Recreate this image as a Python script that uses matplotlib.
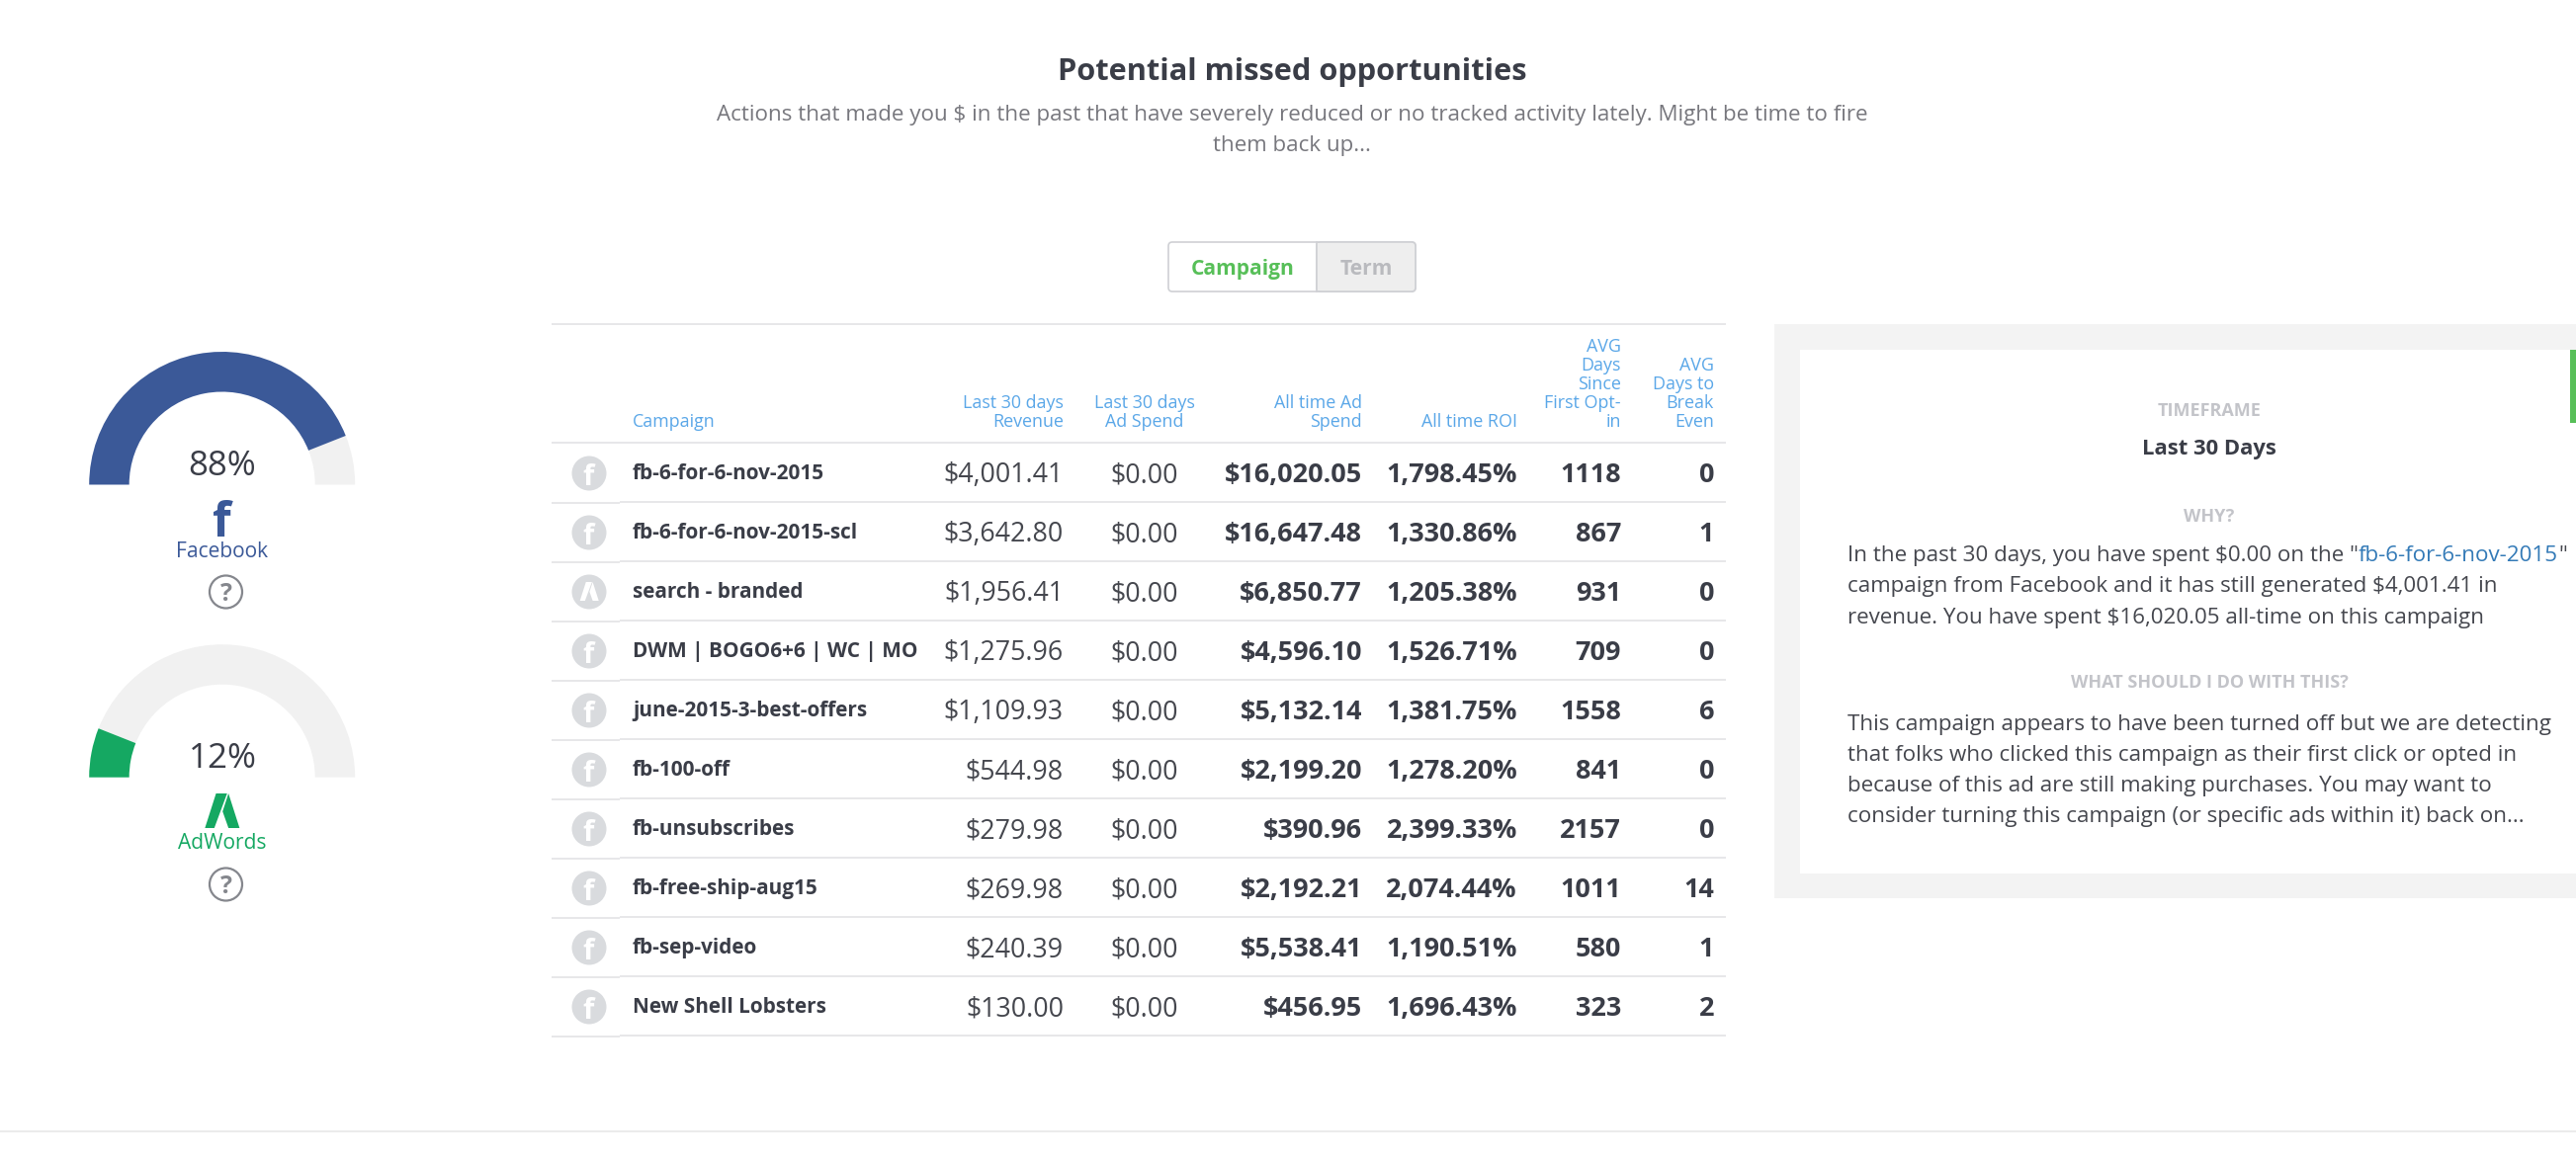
import matplotlib
matplotlib.use('Agg')
import matplotlib.pyplot as plt
from matplotlib.patches import Wedge, Rectangle, Circle, Polygon, FancyBboxPatch

W, H = 2606, 1177

campaigns = ['fb-6-for-6-nov-2015', 'fb-6-for-6-nov-2015-scl', 'search - branded', 'DWM | BOGO6+6 | WC | MO',
             'june-2015-3-best-offers', 'fb-100-off', 'fb-unsubscribes', 'fb-free-ship-aug15', 'fb-sep-video',
             'New Shell Lobsters']
sources = ['f', 'f', 'a', 'f', 'f', 'f', 'f', 'f', 'f', 'f']
revenue = ['$4,001.41', '$3,642.80', '$1,956.41', '$1,275.96', '$1,109.93', '$544.98', '$279.98', '$269.98',
           '$240.39', '$130.00']
ad_spend = ['$0.00'] * 10
all_time_spend = ['$16,020.05', '$16,647.48', '$6,850.77', '$4,596.10', '$5,132.14', '$2,199.20', '$390.96',
                  '$2,192.21', '$5,538.41', '$456.95']
all_time_roi = ['1,798.45%', '1,330.86%', '1,205.38%', '1,526.71%', '1,381.75%', '1,278.20%', '2,399.33%',
                '2,074.44%', '1,190.51%', '1,696.43%']
days_optin = ['1118', '867', '931', '709', '1558', '841', '2157', '1011', '580', '323']
days_even = ['0', '1', '0', '0', '6', '0', '0', '14', '1', '2']
headers = ['Campaign', 'Last 30 days\nRevenue', 'Last 30 days\nAd Spend', 'All time Ad\nSpend', 'All time ROI',
           'AVG\nDays\nSince\nFirst Opt-\nin', 'AVG\nDays to\nBreak\nEven']
gauge_names = ['Facebook', 'AdWords']
gauge_shares = [88, 12]

DARK = '#3a3d47'
BLUE = '#5aa7e8'
FB = '#3b5998'
AW = '#15a862'
LIGHT = '#f1f1f1'
GREY = '#c3c4c9'
LINE = '#e0e0e3'

plt.rcParams['font.family'] = ['Open Sans', 'DejaVu Sans']
fig = plt.figure(figsize=(W / 100, H / 100), dpi=100)
ax = fig.add_axes([0, 0, 1, 1])
ax.set_xlim(0, W)
ax.set_ylim(0, H)
ax.axis('off')


def px(v):
    return v * 0.72


def put(x, y, s, size, color=DARK, weight='normal', ha='left', va='baseline'):
    return ax.text(x, H - y, s, fontsize=px(size), color=color, fontweight=weight, ha=ha, va=va)


def hline(x0, x1, y, color=LINE, lw=1.1):
    ax.plot([x0, x1], [H - y, H - y], color=color, lw=lw, solid_capstyle='butt')


def help_icon(x, y):
    ax.add_patch(Circle((x, H - y), 16.5, fc='white', ec='#85878d', lw=1.6))
    put(x, y + 9, '?', 25, '#85878d', 'bold', ha='center')


def adwords_logo(x, y, s, color):
    # y is the top of the logo, s its height
    ax.add_patch(Polygon([(x - .49 * s, H - y - s), (x - .17 * s, H - y), (x + .15 * s, H - y),
                          (x - .22 * s, H - y - s)], fc=color, ec='none'))
    ax.add_patch(Polygon([(x + .19 * s, H - y), (x + .51 * s, H - y - s), (x + .19 * s, H - y - s),
                          (x + .02 * s, H - y - .52 * s)], fc=color, ec='none'))


# title
put(1307, 73, 'Potential missed opportunities', 30.8, DARK, 'bold', ha='center', va='center')
put(1307, 122, 'Actions that made you $ in the past that have severely reduced or no tracked activity lately. Might be time to fire',
    22.4, '#77777d', ha='center')
put(1307, 153, 'them back up...', 22.4, '#77777d', ha='center')

# toggle
ax.add_patch(FancyBboxPatch((1182, H - 295), 250, 50, boxstyle='round,pad=0,rounding_size=4', fc='white', ec='#cfd0d4', lw=1.2))
ax.add_patch(FancyBboxPatch((1332, H - 295), 100, 50, boxstyle='round,pad=0,rounding_size=4', fc='#eeeeee', ec='#cfd0d4', lw=1.2))
ax.add_patch(Rectangle((1332, H - 294), 10, 48, fc='#eeeeee', ec='none'))
ax.plot([1332, 1332], [H - 295, H - 245], color='#cfd0d4', lw=1.2)
put(1257, 278, 'Campaign', 21, '#57bf58', 'bold', ha='center')
put(1382, 278, 'Term', 21, '#b9babe', 'bold', ha='center')

# gauges
base_y = [490.5, 786.7]
pct_y = [481, 777]
for i, (name, share) in enumerate(zip(gauge_names, gauge_shares)):
    c = FB if i == 0 else AW
    cy = H - base_y[i]
    split = 180 - 180 * share / 100
    ax.add_patch(Wedge((224.7, cy), 134.5, 0, split, width=40.5, fc=LIGHT, ec='none'))
    ax.add_patch(Wedge((224.7, cy), 134.5, split, 180, width=40.5, fc=c, ec='none'))
    put(225, pct_y[i], f'{share}%', 35, DARK, ha='center', va='baseline')
put(224, 543, 'f', 48, FB, 'bold', ha='center')
put(225, 564.5, 'Facebook', 21, FB, ha='center')
adwords_logo(224.5, 803, 35, AW)
put(225, 859, 'AdWords', 21, AW, ha='center')
help_icon(228.5, 599)
help_icon(228.5, 895)

# table
hline(558, 1746, 328)
hline(558, 1746, 448)
col_x = [640, 1076, 1158, 1378, 1535, 1640, 1734]
col_ha = ['left', 'right', 'center', 'right', 'right', 'right', 'right']
for x, ha, head in zip(col_x, col_ha, headers):
    lines = head.split('\n')
    for k, line in enumerate(reversed(lines)):
        put(x, 432 - 19 * k, line, 17.9, BLUE, ha=ha)

for r in range(len(campaigns)):
    top = 448 + 60 * r
    hline(627, 1746, top + 60)
    hline(558, 627, top + 61)
    ax.add_patch(Circle((596, H - (top + 31)), 17.5, fc='#d9dbde', ec='none'))
    if sources[r] == 'f':
        put(595, top + 43, 'f', 29, 'white', 'bold', ha='center')
    else:
        adwords_logo(596, top + 21, 19, 'white')
    put(col_x[0], top + 37, campaigns[r], 20.8, DARK, 'bold')
    put(col_x[1], top + 40, revenue[r], 26.8, '#45474e', ha='right')
    put(col_x[2], top + 40, ad_spend[r], 26.8, '#45474e', ha='center')
    put(col_x[3], top + 40, all_time_spend[r], 27, DARK, 'bold', ha='right')
    put(col_x[4], top + 40, all_time_roi[r], 27, DARK, 'bold', ha='right')
    put(col_x[5], top + 40, days_optin[r], 27, DARK, 'bold', ha='right')
    put(col_x[6], top + 40, days_even[r], 27, DARK, 'bold', ha='right')

# side panel
ax.add_patch(Rectangle((1795, H - 909), W - 1795, 581, fc='#f3f3f3', ec='none'))
ax.add_patch(Rectangle((1821, H - 884), W - 1821, 530, fc='white', ec='none'))
ax.add_patch(Rectangle((2600, H - 428), 6, 74, fc='#57bf58', ec='none'))
put(2235, 421, 'TIMEFRAME', 18, GREY, 'bold', ha='center')
put(2235, 460, 'Last 30 Days', 22, DARK, 'bold', ha='center')
put(2235, 528, 'WHY?', 18, GREY, 'bold', ha='center')
put(2235, 696, 'WHAT SHOULD I DO WITH THIS?', 18, GREY, 'bold', ha='center')

BODY = '#45474e'
BODY_SIZE = 22.4
rend = fig.canvas.get_renderer()
t = put(1869, 568, 'In the past 30 days, you have spent $0.00 on the "', BODY_SIZE, BODY)
x = t.get_window_extent(rend).x1
t = put(x, 568, 'fb-6-for-6-nov-2015', BODY_SIZE, '#337ab7')
x = t.get_window_extent(rend).x1
put(x, 568, '"', BODY_SIZE, BODY)
put(1869, 599.5, 'campaign from Facebook and it has still generated $4,001.41 in', BODY_SIZE, BODY)
put(1869, 631, 'revenue. You have spent $16,020.05 all-time on this campaign', BODY_SIZE, BODY)
put(1869, 739, 'This campaign appears to have been turned off but we are detecting', BODY_SIZE, BODY)
put(1869, 770, 'that folks who clicked this campaign as their first click or opted in', BODY_SIZE, BODY)
put(1869, 801, 'because of this ad are still making purchases. You may want to', BODY_SIZE, BODY)
put(1869, 832, 'consider turning this campaign (or specific ads within it) back on...', BODY_SIZE, BODY)

hline(0, W, 1145, '#e5e5e5')

fig.savefig('out.png', dpi=100)
